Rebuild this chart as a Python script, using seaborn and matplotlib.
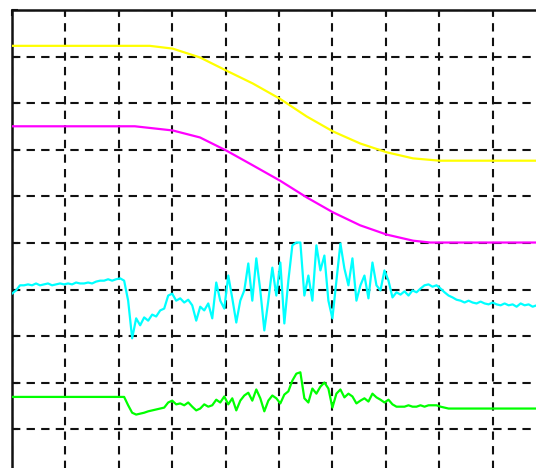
import numpy as np
import pandas as pd
import matplotlib
matplotlib.use("Agg")
import matplotlib.pyplot as plt
import seaborn as sns

# ---------------- data (grid divisions) ----------------
yellow_t = [0.0, 2.58, 3.01, 3.52, 4.01, 4.51, 5.02, 5.52, 6.01, 6.52, 7.02, 7.51, 8.01, 9.81]
yellow_v = [9.24, 9.24, 9.18, 8.99, 8.71, 8.43, 8.10, 7.72, 7.40, 7.14, 6.95, 6.82, 6.77, 6.77]

magenta_t = [0.0, 2.30, 3.01, 3.52, 4.01, 4.51, 5.02, 5.52, 6.01, 6.52, 7.02, 7.51, 7.83, 9.81]
magenta_v = [7.51, 7.51, 7.42, 7.27, 6.99, 6.67, 6.34, 5.98, 5.66, 5.38, 5.18, 5.05, 5.01, 5.01]

cyan_v = [3.91, 3.98, 4.09, 4.09, 4.11, 4.09, 4.13, 4.09, 4.11, 4.13,
          4.09, 4.11, 4.13, 4.11, 4.13, 4.11, 4.15, 4.13, 4.13, 4.15,
          4.13, 4.17, 4.19, 4.19, 4.22, 4.19, 4.22, 4.24, 4.19, 3.76,
          2.95, 3.38, 3.23, 3.40, 3.33, 3.46, 3.42, 3.55, 3.59, 3.87,
          3.91, 3.76, 3.81, 3.72, 3.78, 3.66, 3.33, 3.63, 3.55, 3.70,
          3.38, 4.15, 3.76, 3.59, 4.30, 3.81, 3.29, 3.76, 3.98, 4.56,
          3.76, 4.67, 3.98, 3.12, 3.76, 4.47, 3.87, 4.58, 3.27, 4.19,
          4.95, 5.01, 5.01, 3.87, 4.30, 3.76, 4.95, 4.41, 4.73, 3.76,
          3.38, 4.19, 4.99, 4.45, 4.09, 4.67, 3.76, 4.09, 4.30, 3.81,
          4.58, 4.09, 3.98, 4.41, 4.19, 3.83, 3.94, 3.89, 3.96, 3.87,
          3.98, 3.94, 4.02, 4.09, 4.11, 4.06, 4.09, 4.02, 3.94, 3.87,
          3.83, 3.78, 3.76, 3.72, 3.76, 3.72, 3.70, 3.74, 3.70, 3.68,
          3.72, 3.68, 3.66, 3.70, 3.66, 3.68, 3.63, 3.70, 3.66, 3.68,
          3.63, 3.66]

green_v = ([1.69] * 29 +
           [1.51, 1.35, 1.31, 1.33, 1.35, 1.38, 1.40, 1.42, 1.44, 1.46,
            1.57, 1.61, 1.53, 1.55, 1.51, 1.57, 1.48, 1.40, 1.44, 1.53,
            1.48, 1.51, 1.63, 1.57, 1.70, 1.53, 1.66, 1.40, 1.61, 1.72,
            1.78, 1.61, 1.85, 1.66, 1.38, 1.61, 1.72, 1.66, 1.55, 1.74,
            1.81, 2.04, 2.19, 2.22, 1.66, 1.57, 1.87, 1.76, 1.91, 2.00,
            1.87, 1.46, 1.76, 1.85, 1.68, 1.76, 1.70, 1.55, 1.61, 1.66,
            1.59, 1.76, 1.68, 1.63, 1.57, 1.63, 1.53, 1.48, 1.48, 1.48,
            1.51, 1.48, 1.48, 1.51, 1.48, 1.51, 1.51, 1.51, 1.48, 1.46,
            1.44] +
           [1.44] * 22)

sample_step = 0.075  # divisions per sample

# ---------------- figure ----------------
sns.set_style("white")
fig = plt.figure(figsize=(5.36, 4.68), dpi=100)
ax = fig.add_axes([12 / 536, 1 - 475.5 / 468, 534 / 536, 465 / 468])

df_y = pd.DataFrame({"t": yellow_t, "v": yellow_v})
df_m = pd.DataFrame({"t": magenta_t, "v": magenta_v})
df_c = pd.DataFrame({"t": np.arange(len(cyan_v)) * sample_step, "v": cyan_v})
df_g = pd.DataFrame({"t": np.arange(len(green_v)) * sample_step, "v": green_v})

for df, col in [(df_y, "#ffff00"), (df_m, "#ff00ff"), (df_c, "#00ffff"), (df_g, "#00ff00")]:
    sns.lineplot(data=df, x="t", y="v", ax=ax, color=col, linewidth=1.6,
                 estimator=None, sort=False, zorder=3)

ax.set_xlim(0, 10)
ax.set_ylim(0, 10)
ax.set_xticks(range(0, 11))
ax.set_yticks(range(0, 11))
ax.set_xticklabels([])
ax.set_yticklabels([])
ax.set_xlabel("")
ax.set_ylabel("")
ax.grid(True, color="#111111", linestyle=(0, (4, 3)), linewidth=1.5, zorder=1)
ax.set_axisbelow(True)
ax.tick_params(axis="both", direction="in", length=4, width=1.5, color="#111111",
               top=True, bottom=False, left=True, right=False)
for side in ["left", "top"]:
    ax.spines[side].set_color("#111111")
    ax.spines[side].set_linewidth(1.8)
for side in ["right", "bottom"]:
    ax.spines[side].set_visible(False)

fig.savefig("out.png", dpi=100)
